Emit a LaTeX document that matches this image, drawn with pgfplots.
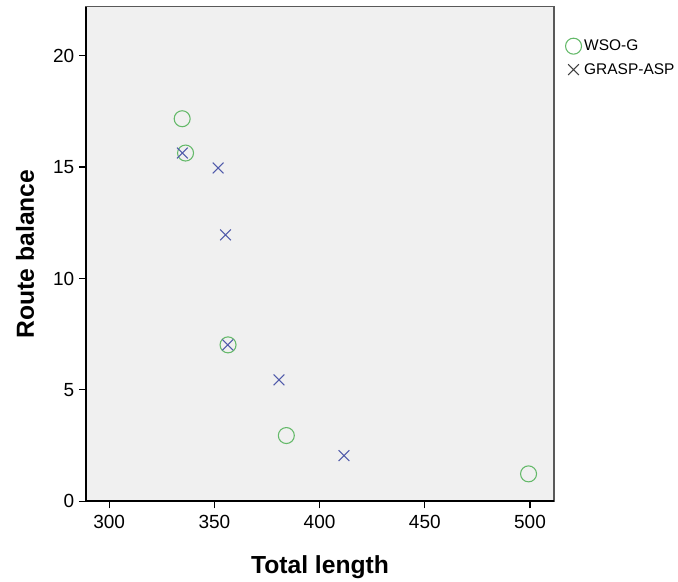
\documentclass[border=0pt]{standalone}
\usepackage{pgfplots}
\pgfplotsset{compat=1.18}
\usepackage{fontspec}
\setmainfont{Liberation Sans}
\usetikzlibrary{calc}
\definecolor{bg}{RGB}{240,240,240}
\definecolor{wsog}{RGB}{100,185,105}
\definecolor{grasp}{RGB}{80,90,170}
\begin{document}
\begin{tikzpicture}
\begin{axis}[name=ax, scale only axis, width=351pt, height=370.95pt,
 xmin=289, xmax=511.4, ymin=0, ymax=22.2,
 xtick={300,350,400,450,500}, ytick={0,5,10,15,20},
 tick pos=left, tick align=outside, major tick length=5.25pt,
 tick style={black, line width=0.9pt},
 axis background/.style={fill=bg},
 axis line style={draw=gray!70!black, line width=0.9pt},
 /pgf/number format/assume math mode=true,
 ticklabel style={font=\fontsize{14.25}{16}\selectfont},
 xticklabel style={yshift=-2pt},
 xlabel={Total length}, ylabel={Route balance},
 label style={font=\fontsize{18.5}{22}\selectfont\bfseries},
 xlabel style={at={(axis description cs:0.5,-0.1329)},anchor=center},
 ylabel style={at={(axis description cs:-0.1303,0.5)},anchor=center},
 clip=false,
 legend image code/.code={\draw[#1] plot coordinates {(0pt,0pt)};},
 legend style={draw=none, fill=none, font=\fontsize{11.6}{13}\selectfont,
   at={(axis description cs:1.0241,0.939)}, anchor=north west,
   inner sep=0pt, row sep=4pt, cells={anchor=west}},
]
\addplot[only marks, mark=o, mark size=6pt, draw=wsog, line width=0.8pt, forget plot] coordinates {
(334.7,17.17) (336.3,15.63) (356.5,7.02) (384.2,2.95) (499.3,1.23)};
\addplot[only marks, mark=x, mark size=5.7pt, draw=grasp, line width=0.8pt, forget plot] coordinates {
(334.8,15.63) (351.8,14.96) (355.3,11.96) (356.4,7.02) (380.7,5.45) (411.6,2.05)};
\addlegendimage{only marks, mark=o, mark size=6pt, draw=wsog, line width=0.8pt}
\addlegendentry{WSO-G}
\addlegendimage{only marks, mark=x, mark size=5.7pt, draw=black!75, line width=0.8pt}
\addlegendentry{GRASP-ASP}
\draw[black, line width=1.2pt] (rel axis cs:0,1) -- (rel axis cs:0,0) -- (rel axis cs:1,0);
\end{axis}
\pgfresetboundingbox
\path[use as bounding box] ($(ax.south west)+(-64.5pt,-60.5pt)$) rectangle ($(ax.north east)+(93pt,5pt)$);
\end{tikzpicture}
\end{document}
